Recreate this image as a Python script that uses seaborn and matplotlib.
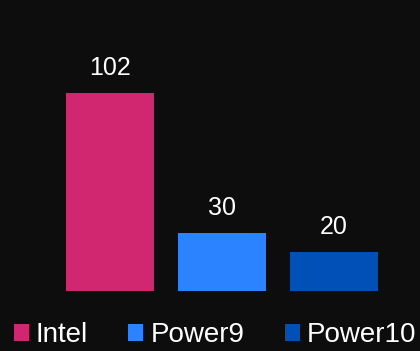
import matplotlib
matplotlib.use("Agg")
import matplotlib.pyplot as plt
from matplotlib.patches import Patch
import seaborn as sns
import pandas as pd

categories = ["Intel", "Power9", "Power10"]
values = [102, 30, 20]
colors = ["#d12771", "#2b83ff", "#0050b8"]

BG = "#0d0d0d"
sns.set_theme(style="dark")
plt.rcParams["font.family"] = ["Liberation Sans", "DejaVu Sans"]

W, H = 420, 351
fig = plt.figure(figsize=(W / 100, H / 100), dpi=100, facecolor=BG)
# axes in pixel coords
left, right, top, bottom = 54, 390, 20, 291
ax = fig.add_axes([left / W, 1 - bottom / H, (right - left) / W, (bottom - top) / H])
ax.set_facecolor(BG)

df = pd.DataFrame({"cat": categories, "val": values})
sns.barplot(data=df, x="cat", y="val", hue="cat", palette=colors,
            width=0.79, legend=False, ax=ax, saturation=1, linewidth=0)

ax.set_xlim(-0.5, 2.5)
ax.set_ylim(0, (bottom - top) / 1.94)
for c in ax.containers:
    ax.bar_label(c, labels=[f"{v:g}" for v in c.datavalues], padding=9.5,
                 color="white", fontsize=18)

for s in ax.spines.values():
    s.set_visible(False)
ax.set_xticks([])
ax.set_yticks([])
ax.set_xlabel("")
ax.set_ylabel("")
ax.grid(False)

handles = [Patch(facecolor=col, edgecolor="none", label=lab)
           for col, lab in zip(colors, categories)]
leg = fig.legend(handles=handles, loc="center left",
                 bbox_to_anchor=(14 / W, 1 - 335.5 / H), ncol=3,
                 frameon=False, fontsize=20, borderpad=0, borderaxespad=0,
                 handlelength=0.54, handleheight=0.54, handletextpad=0.25,
                 columnspacing=1.45)
for t in leg.get_texts():
    t.set_color("white")

fig.savefig("out.png", dpi=100, facecolor=BG)
